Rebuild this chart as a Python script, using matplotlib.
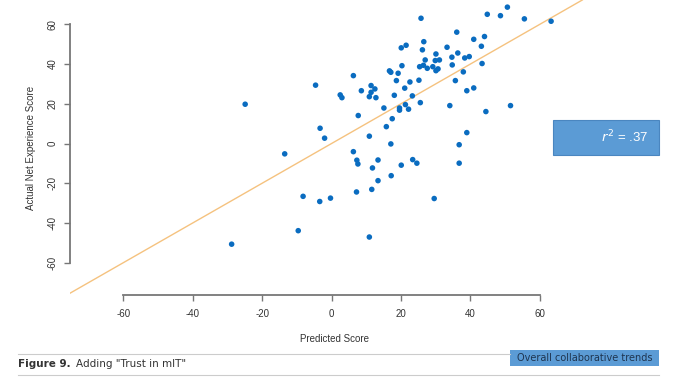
import numpy as np
import matplotlib.pyplot as plt
from matplotlib.patches import Rectangle

# predicted vs actual scores
predicted = [25.8, 44.9, 48.7, 50.7, 55.6, 63.3, 36.1, 44.1, 41.0, 26.6,
             21.5, 20.1, 33.3, 43.2, 26.2, 36.4, 30.1, 34.7, 38.4, 39.7,
             27.0, 29.9, 31.1, 43.4, 20.3, 25.4, 26.5, 27.6, 29.2, 30.7,
             30.1, 34.8, 16.7, 17.1, 19.2, 6.3, 38.0, 18.7, 22.6, 25.2,
             35.7, 11.4, 12.5, 8.6, 11.4, 21.1, 39.0, 41.0, 2.5, 3.0,
             10.9, 12.8, 18.1, 23.3, 15.1, 19.6, 19.6, 21.3, 22.2, 25.6,
             34.1, 51.6, 44.5, 7.7, 17.5, 15.8, 10.9, 39.0, 17.1, 36.8,
             6.3, 7.3, 7.6, 13.4, 23.4, 24.6, 20.1, 36.8, 11.8, 13.4,
             17.2, 7.2, 11.6, 29.6, 10.9, -24.9, -4.6, -13.5, -3.3, -2.0,
             -8.2, -3.4, -0.3, -9.6, -28.8]
actual = [63.1, 65.1, 64.4, 68.7, 62.8, 61.6, 56.1, 53.9, 52.5, 51.3,
          49.5, 48.2, 48.5, 49.0, 47.2, 45.6, 45.1, 43.5, 43.1, 43.8,
          42.1, 41.8, 42.1, 40.3, 39.2, 38.7, 39.4, 37.9, 38.7, 37.6,
          36.7, 39.6, 36.6, 35.9, 35.4, 34.2, 36.1, 31.7, 31.0, 31.9,
          31.7, 29.2, 27.5, 26.6, 25.8, 27.9, 26.6, 28.0, 24.5, 23.1,
          23.6, 23.1, 24.3, 24.0, 17.9, 17.9, 16.8, 19.6, 17.3, 20.6,
          19.1, 19.1, 16.1, 14.1, 12.5, 8.5, 3.7, 5.5, -0.2, -0.6,
          -4.1, -8.4, -10.3, -8.3, -8.1, -9.9, -10.9, -9.9, -12.3, -18.7,
          -16.2, -24.4, -23.1, -27.7, -47.1, 19.8, 29.4, -5.2, 7.7, 2.7,
          -26.6, -29.2, -27.5, -43.9, -50.7]

fit_intercept = 0.0
fit_slope = 1.0
r_squared = ".37"
ticks = [-60, -40, -20, 0, 20, 40, 60]

plt.rcParams['font.family'] = ['Liberation Sans', 'DejaVu Sans']

fig = plt.figure(figsize=(6.78, 3.92), dpi=100)
W, H = 678, 392
ax = fig.add_axes([70 / W, 1 - 295 / H, 530 / W, 295 / H])
ax.set_xlim(-75.4, 77.4)
ax.set_ylim(-76.3, 72.3)

ax.axline((0, fit_intercept), slope=fit_slope, color='#f5c27f', lw=1.0, zorder=1)
ax.scatter(predicted, actual, s=16, color='#0a6cc0', edgecolors='none', zorder=2)

for side in ['top', 'right']:
    ax.spines[side].set_visible(False)
for side in ['left', 'bottom']:
    ax.spines[side].set_color('#777777')
    ax.spines[side].set_linewidth(1.3)
ax.spines['left'].set_bounds(-60, 60)
ax.spines['bottom'].set_bounds(-60, 60)
ax.set_xticks(ticks)
ax.set_yticks(ticks)
ax.set_xticklabels([str(t) for t in ticks])
ax.set_yticklabels([str(t) for t in ticks], rotation=90, va='center')
ax.tick_params(colors='#777777', labelcolor='#333333', labelsize=7, length=4, width=1)
ax.tick_params(axis='x', pad=6)
ax.tick_params(axis='y', pad=5)
ax.set_xlabel("Predicted Score", fontsize=7, color='#333333', labelpad=11)
ax.set_ylabel("Actual Net Experience Score", fontsize=7, color='#333333', labelpad=8)
ax.patch.set_alpha(0)

# r^2 box
fig.patches.append(Rectangle((553 / W, 1 - 155 / H), 106 / W, 35 / H,
                             transform=fig.transFigure, facecolor='#5b9bd5',
                             edgecolor='#4a86c0', lw=0.8))
fig.text(648 / W, 1 - 137 / H, r"$r^2$ = " + r_squared, color='white', fontsize=9.5,
         ha='right', va='center')

# caption rules and labels
fig.add_artist(plt.Line2D([18 / W, 510 / W], [1 - 354 / H] * 2, color='#cccccc', lw=0.8))
fig.add_artist(plt.Line2D([18 / W, 659 / W], [1 - 375 / H] * 2, color='#cccccc', lw=0.8))
fig.text(18 / W, 1 - 364 / H, "Figure 9.", fontsize=7.5, fontweight='bold',
         color='#333333', va='center', family=['DejaVu Sans'])
fig.text(76 / W, 1 - 364 / H, "Adding \"Trust in mIT\"", fontsize=7.5,
         color='#333333', va='center', family=['DejaVu Sans'])
fig.patches.append(Rectangle((510 / W, 1 - 366 / H), 149 / W, 16 / H,
                             transform=fig.transFigure, facecolor='#5b9bd5',
                             edgecolor='none'))
fig.text(584.5 / W, 1 - 358 / H, "Overall collaborative trends", fontsize=7,
         color='#1f3550', ha='center', va='center', family=['DejaVu Sans'])

fig.savefig("out.png", dpi=100)
